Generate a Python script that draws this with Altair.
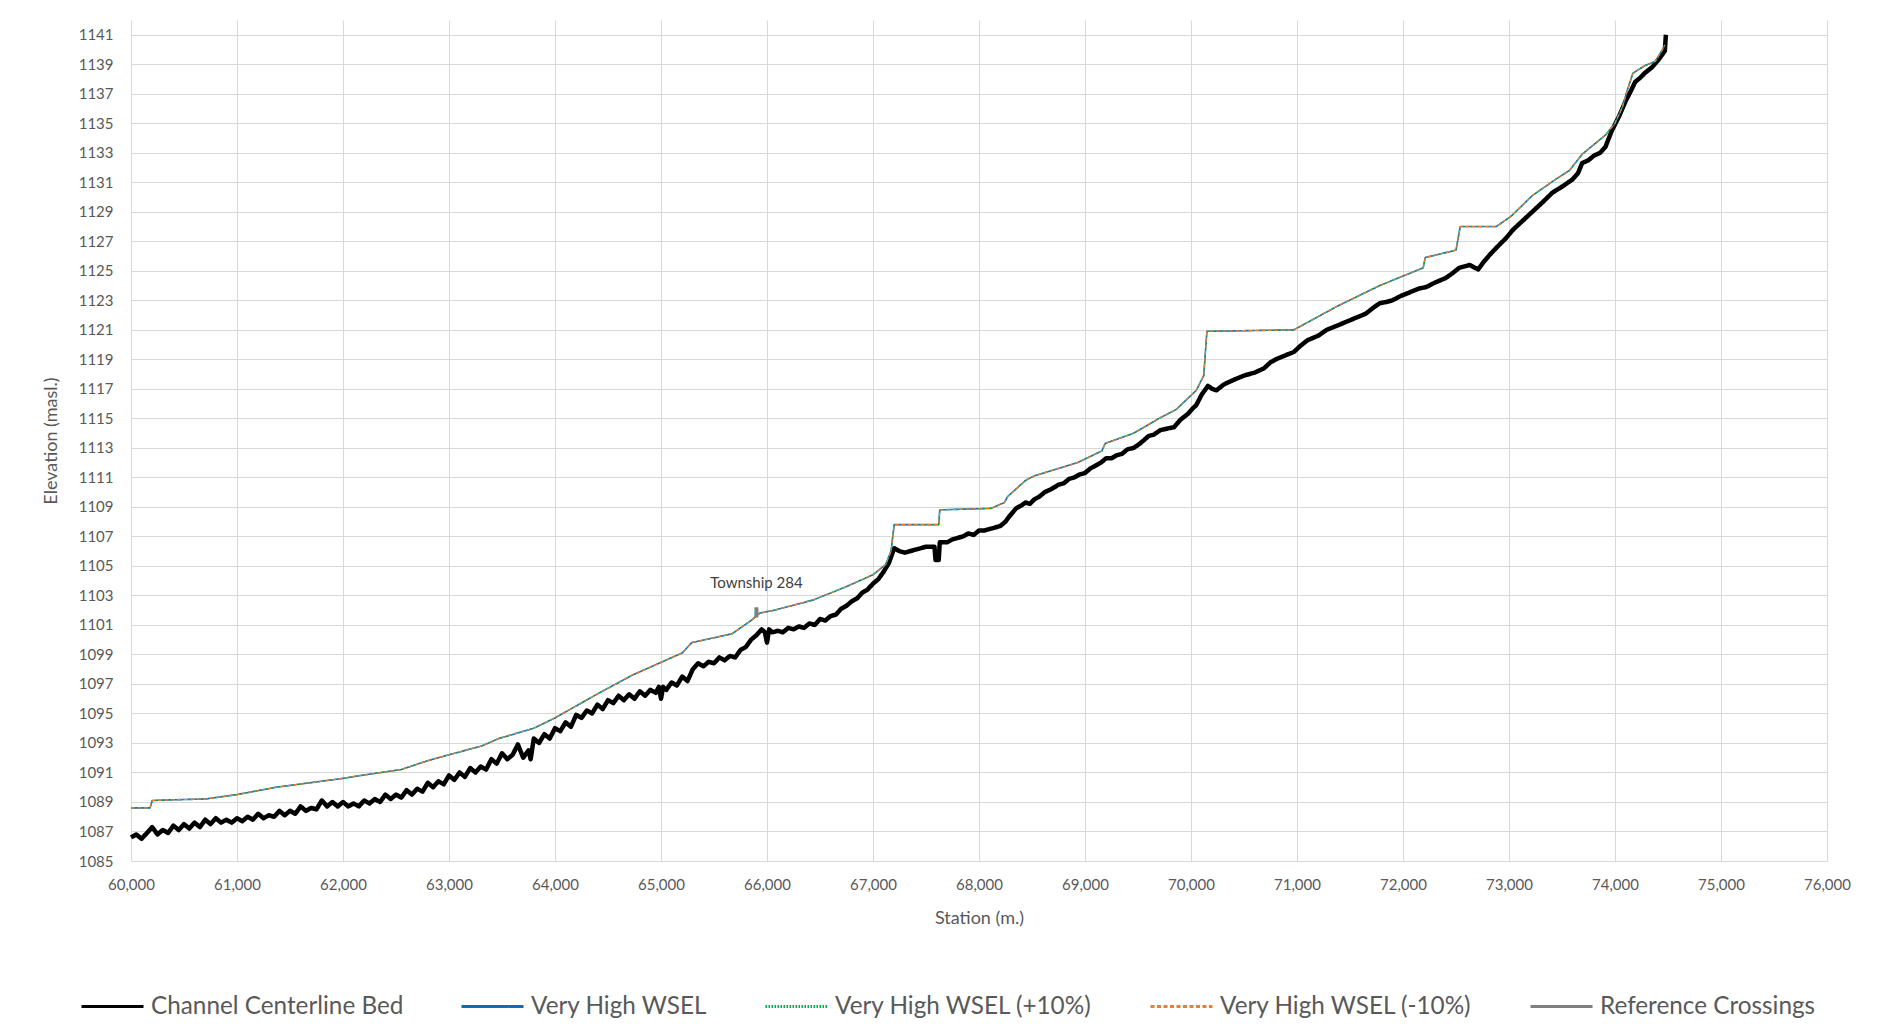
import altair as alt
import pandas as pd

series_names = [
    "Channel Centerline Bed",
    "Very High WSEL",
    "Very High WSEL (+10%)",
    "Very High WSEL (-10%)",
    "Reference Crossings",
]
series_colors = ["#000000", "#0070C0", "#00B050", "#ED7D31", "#7F7F7F"]
series_dashes = [[1, 0], [1, 0], [1.5, 1.5], [4, 2.5], [1, 0]]

bed_station = [
    60000, 60050, 60100, 60150, 60200, 60250, 60300, 60350, 60400, 60450,
    60500, 60550, 60600, 60650, 60700, 60750, 60800, 60850, 60900, 60950,
    61000, 61050, 61100, 61150, 61200, 61250, 61300, 61350, 61400, 61450,
    61500, 61550, 61600, 61650, 61700, 61750, 61800, 61850, 61900, 61950,
    62000, 62050, 62100, 62150, 62200, 62250, 62300, 62350, 62400, 62450,
    62500, 62550, 62600, 62650, 62700, 62750, 62800, 62850, 62900, 62950,
    63000, 63050, 63100, 63150, 63200, 63250, 63300, 63350, 63400, 63450,
    63500, 63550, 63600, 63650, 63700, 63750, 63770, 63800, 63850, 63900,
    63950, 64000, 64050, 64100, 64150, 64200, 64250, 64300, 64350, 64400,
    64450, 64500, 64550, 64600, 64650, 64700, 64750, 64800, 64850, 64900,
    64950, 64980, 65000, 65020, 65050, 65100, 65150, 65200, 65250, 65300,
    65350, 65400, 65450, 65500, 65550, 65600, 65650, 65700, 65750, 65800,
    65850, 65900, 65950, 65980, 66000, 66020, 66050, 66100, 66150, 66200,
    66250, 66300, 66350, 66400, 66450, 66500, 66550, 66600, 66650, 66700,
    66750, 66800, 66850, 66900, 66950, 67000, 67050, 67100, 67150, 67200,
    67250, 67300, 67350, 67400, 67450, 67500, 67580, 67590, 67620, 67630,
    67700, 67750, 67800, 67850, 67900, 67950, 68000, 68050, 68100, 68150,
    68200, 68250, 68280, 68350, 68400, 68440, 68480, 68520, 68570, 68620,
    68680, 68750, 68800, 68850, 68900, 68950, 69000, 69050, 69100, 69150,
    69200, 69250, 69300, 69350, 69400, 69460, 69520, 69600, 69650, 69710,
    69770, 69840, 69900, 69970, 70020, 70050, 70100, 70130, 70160, 70200,
    70240, 70310, 70400, 70500, 70600, 70690, 70750, 70800, 70900, 70970,
    71030, 71100, 71200, 71280, 71350, 71450, 71550, 71650, 71720, 71780,
    71850, 71900, 71980, 72050, 72150, 72220, 72300, 72400, 72460, 72530,
    72580, 72630, 72680, 72710, 72760, 72820, 72900, 72970, 73040, 73130,
    73220, 73310, 73410, 73500, 73600, 73650, 73690, 73750, 73800, 73860,
    73910, 73970, 74040, 74100, 74150, 74190, 74240, 74280, 74350, 74410,
    74470, 74480,
]
bed_elev = [
    1086.6, 1086.8, 1086.5, 1086.9, 1087.3, 1086.8, 1087.1, 1086.9, 1087.4, 1087.1,
    1087.5, 1087.2, 1087.6, 1087.3, 1087.8, 1087.5, 1087.9, 1087.6, 1087.8, 1087.6,
    1087.9, 1087.7, 1088.0, 1087.8, 1088.2, 1087.9, 1088.1, 1088.0, 1088.4, 1088.1,
    1088.4, 1088.2, 1088.7, 1088.4, 1088.6, 1088.5, 1089.1, 1088.7, 1089.0, 1088.7,
    1089.0, 1088.7, 1088.9, 1088.7, 1089.1, 1088.9, 1089.2, 1089.0, 1089.5, 1089.2,
    1089.5, 1089.3, 1089.8, 1089.5, 1089.9, 1089.7, 1090.3, 1090.0, 1090.4, 1090.2,
    1090.8, 1090.5, 1091.0, 1090.7, 1091.3, 1091.0, 1091.4, 1091.2, 1091.9, 1091.6,
    1092.3, 1091.9, 1092.2, 1092.9, 1092.0, 1092.5, 1091.9, 1093.3, 1093.0, 1093.6,
    1093.3, 1094.0, 1093.8, 1094.4, 1094.1, 1094.9, 1094.7, 1095.2, 1095.0, 1095.6,
    1095.3, 1095.9, 1095.7, 1096.2, 1095.9, 1096.3, 1096.0, 1096.5, 1096.2, 1096.6,
    1096.4, 1096.8, 1096.0, 1096.8, 1096.6, 1097.1, 1096.9, 1097.5, 1097.2, 1098.0,
    1098.4, 1098.2, 1098.5, 1098.4, 1098.8, 1098.6, 1098.9, 1098.8, 1099.3, 1099.5,
    1100.0, 1100.3, 1100.7, 1100.5, 1099.8, 1100.7, 1100.5, 1100.6, 1100.5, 1100.8,
    1100.7, 1100.9, 1100.8, 1101.1, 1101.0, 1101.4, 1101.3, 1101.6, 1101.7, 1102.1,
    1102.3, 1102.6, 1102.8, 1103.2, 1103.4, 1103.8, 1104.1, 1104.6, 1105.2, 1106.2,
    1106.0, 1105.9, 1106.0, 1106.1, 1106.2, 1106.3, 1106.3, 1105.4, 1105.4, 1106.6,
    1106.6, 1106.8, 1106.9, 1107.0, 1107.2, 1107.1, 1107.4, 1107.4, 1107.5, 1107.6,
    1107.7, 1108.0, 1108.3, 1108.9, 1109.1, 1109.3, 1109.2, 1109.5, 1109.7, 1110.0,
    1110.2, 1110.5, 1110.6, 1110.9, 1111.0, 1111.2, 1111.3, 1111.6, 1111.8, 1112.0,
    1112.3, 1112.3, 1112.5, 1112.6, 1112.9, 1113.0, 1113.3, 1113.8, 1113.9, 1114.2,
    1114.3, 1114.4, 1114.9, 1115.3, 1115.7, 1115.9, 1116.6, 1116.9, 1117.2, 1117.0,
    1116.9, 1117.3, 1117.6, 1117.9, 1118.1, 1118.4, 1118.8, 1119.0, 1119.3, 1119.5,
    1119.9, 1120.3, 1120.6, 1121.0, 1121.2, 1121.5, 1121.8, 1122.1, 1122.5, 1122.8,
    1122.9, 1123.0, 1123.3, 1123.5, 1123.8, 1123.9, 1124.2, 1124.5, 1124.8, 1125.2,
    1125.3, 1125.4, 1125.2, 1125.1, 1125.6, 1126.1, 1126.7, 1127.2, 1127.8, 1128.4,
    1129.0, 1129.6, 1130.3, 1130.7, 1131.2, 1131.6, 1132.3, 1132.5, 1132.8, 1133.0,
    1133.4, 1134.5, 1135.5, 1136.5, 1137.2, 1137.8, 1138.1, 1138.4, 1138.8, 1139.3,
    1139.9, 1141.0,
]

wsel_station = [
    60000, 60180, 60200, 60400, 60700, 61000, 61370, 61790, 62000, 62170,
    62550, 62800, 63000, 63310, 63470, 63800, 64000, 64420, 64730, 65200,
    65290, 65670, 65850, 65930, 66070, 66440, 66750, 67000, 67120, 67170,
    67200, 67620, 67630, 68115, 68240, 68270, 68440, 68520, 68930, 69160,
    69190, 69460, 69700, 69860, 70050, 70120, 70150, 70970, 71380, 71780,
    72190, 72210, 72500, 72540, 72880, 73020, 73220, 73440, 73570, 73690,
    73910, 74000, 74070, 74110, 74170, 74280, 74380, 74440, 74470,
]
wsel_elev = [
    1088.6, 1088.6, 1089.1, 1089.15, 1089.2, 1089.5, 1090.0, 1090.4, 1090.6, 1090.8,
    1091.2, 1091.8, 1092.2, 1092.8, 1093.3, 1094.0, 1094.7, 1096.4, 1097.6, 1099.1,
    1099.8, 1100.4, 1101.3, 1101.8, 1102.0, 1102.7, 1103.6, 1104.4, 1105.1, 1106.0,
    1107.8, 1107.8, 1108.8, 1108.9, 1109.3, 1109.7, 1110.8, 1111.1, 1112.0, 1112.8,
    1113.3, 1114.0, 1115.0, 1115.6, 1116.9, 1117.9, 1120.9, 1121.0, 1122.6, 1124.0,
    1125.2, 1125.9, 1126.4, 1128.0, 1128.0, 1128.7, 1130.1, 1131.2, 1131.8, 1132.9,
    1134.2, 1135.0, 1136.1, 1137.1, 1138.4, 1138.9, 1139.2, 1139.9, 1140.3,
]

crossing_station = [65900, 65900]
crossing_elev = [1101.5, 1102.2]
crossing_label = ["Township 284"]
crossing_label_elev = [1103.85]

x_ticks = list(range(60000, 76001, 1000))
y_ticks = list(range(1085, 1142, 2))

bed_df = pd.DataFrame({"station": bed_station, "elev": bed_elev, "series": series_names[0]})
wsel_df = pd.DataFrame({"station": wsel_station, "elev": wsel_elev, "series": series_names[1]})
wsel_hi_df = pd.DataFrame({"station": wsel_station, "elev": wsel_elev, "series": series_names[2]})
wsel_lo_df = pd.DataFrame({"station": wsel_station, "elev": wsel_elev, "series": series_names[3]})
cross_df = pd.DataFrame({"station": crossing_station, "elev": crossing_elev, "series": series_names[4]})
label_df = pd.DataFrame({"station": crossing_station[:1], "elev": crossing_label_elev, "label": crossing_label})

FONT = "Lato"
GRAY = "#595959"

x_enc = alt.X(
    "station:Q",
    scale=alt.Scale(domain=[60000, 76000], nice=False, zero=False),
    axis=alt.Axis(
        values=x_ticks, format=",d", title="Station (m.)",
        labelPadding=16, titlePadding=17, titleFontSize=18, labelFontSize=15,
        labelFlush=False,
    ),
)
y_enc = alt.Y(
    "elev:Q",
    scale=alt.Scale(domain=[1085, 1142], nice=False, zero=False),
    axis=alt.Axis(
        values=y_ticks, format="d", title="Elevation (masl.)",
        labelPadding=18, titlePadding=18, titleFontSize=18, labelFontSize=15,
        labelFlush=False,
    ),
)

legend = alt.Legend(
    title=None, orient="none", legendX=-51, legendY=954,
    direction="horizontal", symbolType="stroke", symbolSize=3844,
    symbolStrokeWidth=3, labelFontSize=24.3, labelFont=FONT, labelColor=GRAY,
    columnPadding=51, labelOffset=6, padding=0, labelLimit=0,
)
color_enc = alt.Color(
    "series:N", scale=alt.Scale(domain=series_names, range=series_colors), legend=legend)
dash_enc = alt.StrokeDash(
    "series:N", scale=alt.Scale(domain=series_names, range=series_dashes), legend=legend)

def series_line(df, width):
    return alt.Chart(df).mark_line(strokeWidth=width, strokeJoin="round").encode(
        x=x_enc, y=y_enc, color=color_enc, strokeDash=dash_enc)

bed = series_line(bed_df, 4.5)
wsel = series_line(wsel_df, 1.6)
wsel_hi = series_line(wsel_hi_df, 1.2)
wsel_lo = series_line(wsel_lo_df, 1.2)
cross = series_line(cross_df, 4)
label = alt.Chart(label_df).mark_text(font=FONT, fontSize=15, color="#404040").encode(
    x=x_enc, y=y_enc, text="label:N")

chart = alt.layer(bed, wsel, wsel_hi, wsel_lo, cross, label).properties(
    width=1696,
    height=841,
    autosize=alt.AutoSizeParams(type="none"),
    padding={"left": 123, "top": 12, "right": 47, "bottom": 157},
).configure_view(stroke=None).configure_axis(
    grid=True, gridColor="#d9d9d9", gridWidth=1, domain=False, ticks=False,
    labelFont=FONT, labelColor=GRAY, titleFont=FONT, titleColor=GRAY,
    titleFontWeight="normal",
)

chart.save("out.html", embed_options={"renderer": "svg", "actions": False})
